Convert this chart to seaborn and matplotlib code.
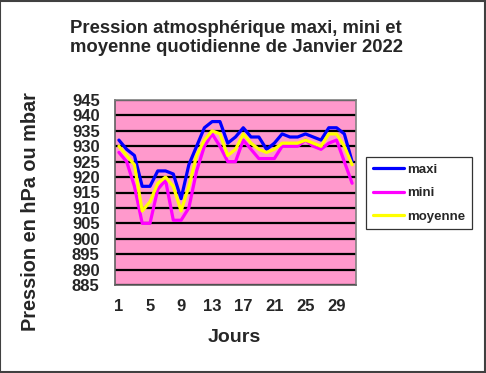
import numpy as np
import pandas as pd
import matplotlib
matplotlib.use('Agg')
import matplotlib.pyplot as plt
import matplotlib.patches as mpatches
from matplotlib.ticker import MultipleLocator, FixedLocator
import seaborn as sns

# ─── DATA ────────────────────────────────────────────────────────────────────
jours = list(range(1, 32))
maxi = [932, 929, 927, 917, 917, 922, 922, 921, 913, 924, 930, 936, 938, 938, 931, 933,
        936, 933, 933, 929, 931, 934, 933, 933, 934, 933, 932, 936, 936, 934, 925]
mini = [928, 925, 917, 905, 905, 916, 919, 906, 906, 910, 922, 930, 934, 930, 925, 925,
        932, 929, 926, 926, 926, 930, 930, 930, 932, 930, 929, 931, 932, 925, 918]
moyenne = [930, 927, 924, 909, 912, 918, 920, 917, 909, 917, 927, 932, 935, 934, 927, 929,
           934, 931, 929, 928, 929, 931, 931, 931, 932, 931, 930, 934, 934, 930, 924]
x_labels = [1, 5, 9, 13, 17, 21, 25, 29]

df = pd.DataFrame({'Jour': jours * 3,
                   'Pression': maxi + mini + moyenne,
                   'Serie': ['maxi'] * 31 + ['mini'] * 31 + ['moyenne'] * 31})

# ─── STYLE ───────────────────────────────────────────────────────────────────
sns.set_style('white')
plt.rcParams['font.family'] = ['Liberation Sans', 'DejaVu Sans']
plt.rcParams['font.weight'] = 'bold'

PINK = '#FF99CC'
palette = {'maxi': '#0000FF', 'mini': '#FF00FF', 'moyenne': '#FFFF00'}

fig = plt.figure(figsize=(4.86, 3.73), dpi=100)
ax = fig.add_axes([115 / 486, 1 - 285 / 373, 241 / 486, 185 / 373])
ax.set_facecolor(PINK)

# gridlines
for v in range(885, 946, 5):
    ax.axhline(v, color='black', lw=1.6, zorder=1)

sns.lineplot(data=df, x='Jour', y='Pression', hue='Serie', palette=palette,
             linewidth=2.3, ax=ax, legend=False, zorder=3)

ax.set_xlim(0.5, 31.5)
ax.set_ylim(885, 945)
ax.yaxis.set_major_locator(MultipleLocator(5))
ax.set_xticks(x_labels)
ax.set_xticklabels([str(v) for v in x_labels])
ax.xaxis.set_minor_locator(FixedLocator(np.arange(0.5, 32, 1)))
ax.tick_params(axis='x', which='major', length=0, pad=10, labelsize=12)
ax.tick_params(axis='x', which='minor', length=4, color='#606060', direction='out')
ax.tick_params(axis='y', which='major', length=4, color='#606060', direction='out',
               labelsize=12, pad=7)
for lab in ax.get_xticklabels() + ax.get_yticklabels():
    lab.set_fontweight('bold')

for side in ['top', 'right']:
    ax.spines[side].set_color('#808080')
    ax.spines[side].set_linewidth(1.2)
for side in ['left', 'bottom']:
    ax.spines[side].set_color('#606060')
    ax.spines[side].set_linewidth(1.2)

ax.set_xlabel('')
ax.set_ylabel('')
fig.text(234 / 486, 1 - 338 / 373, 'Jours', ha='center', va='center',
         fontsize=14, fontweight='bold')
fig.text(31 / 486, 1 - 212 / 373, 'Pression en hPa ou mbar', ha='center', va='center',
         rotation=90, fontsize=14.3, fontweight='bold')

fig.text(236 / 486, 1 - 38 / 373,
         'Pression atmosphérique maxi, mini et\nmoyenne quotidienne de Janvier 2022',
         ha='center', va='center', fontsize=13.3, fontweight='bold', linespacing=1.15)

# legend
handles = [plt.Line2D([], [], color=palette[k], lw=2.3, label=k) for k in ['maxi', 'mini', 'moyenne']]
leg = fig.legend(handles=handles, loc='upper left',
                 bbox_to_anchor=(366 / 486, 1 - 157 / 373),
                 frameon=True, fancybox=False, edgecolor='black',
                 prop={'weight': 'bold', 'size': 9.5}, handlelength=2.4,
                 handletextpad=0.2, labelspacing=0.85, borderpad=0.5,
                 borderaxespad=0)
leg.get_frame().set_linewidth(0.9)

# outer chart border
fig.patches.append(mpatches.Rectangle((0.001, 0.002), 0.997, 0.996, transform=fig.transFigure,
                                      fill=False, edgecolor='#404040', lw=1.5))

fig.savefig('out.png', dpi=100)
